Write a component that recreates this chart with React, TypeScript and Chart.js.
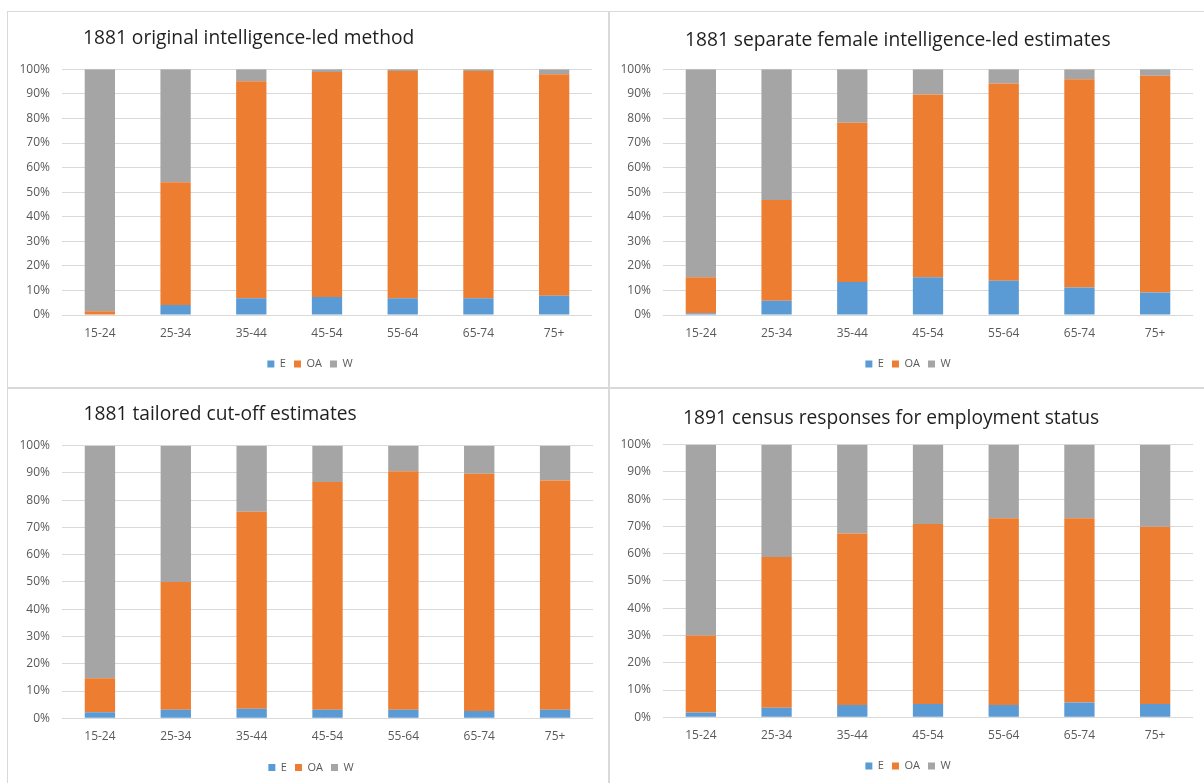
import React, { useEffect, useRef } from 'react';
import { Chart, registerables } from 'chart.js';

Chart.register(...registerables);

// ---------- data ----------
const categories = ['15-24', '25-34', '35-44', '45-54', '55-64', '65-74', '75+'];
const seriesNames = ['E', 'OA', 'W'];
const seriesColors = ['#5B9BD5', '#ED7D31', '#A5A5A5'];
const yTicks = [0, 10, 20, 30, 40, 50, 60, 70, 80, 90, 100];

const originalE = [0, 4.1, 6.8, 7.3, 6.8, 6.8, 7.8];
const originalOA = [1.5, 49.9, 88.3, 91.6, 92.5, 92.5, 90.2];
const originalW = [98.5, 46.0, 4.9, 1.1, 0.7, 0.7, 2.0];

const femaleE = [0.7, 5.8, 13.4, 15.4, 13.9, 11.2, 9.2];
const femaleOA = [14.7, 41.0, 64.8, 74.3, 80.3, 84.7, 88.2];
const femaleW = [84.6, 53.2, 21.8, 10.3, 5.8, 4.1, 2.6];

const tailoredE = [2.2, 3.1, 3.5, 3.1, 3.1, 2.7, 3.1];
const tailoredOA = [12.5, 46.9, 72.3, 83.6, 87.5, 87.0, 84.1];
const tailoredW = [85.3, 50.0, 24.2, 13.3, 9.4, 10.3, 12.8];

const censusE = [1.8, 3.5, 4.5, 4.9, 4.5, 5.4, 4.9];
const censusOA = [28.2, 55.3, 62.9, 66.0, 68.5, 67.6, 65.0];
const censusW = [70.0, 41.2, 32.6, 29.1, 27.0, 27.0, 30.1];

const titles = [
  '1881 original intelligence-led method',
  '1881 separate female intelligence-led estimates',
  '1881 tailored cut-off estimates',
  '1891 census responses for employment status',
];

// ---------- layout (page coordinates) ----------
type Geo = {
  panel: { x: number; y: number; w: number; h: number };
  canvas: { x: number; y: number; w: number; h: number };
  plot: { l: number; r: number; t: number; b: number };
  axisLeft: number;
  legendX: number;
  legendY: number;
  title: { x: number; baseline: number };
};

const geos: Geo[] = [
  {
    panel: { x: 7, y: 11, w: 602, h: 377 },
    canvas: { x: 0, y: 12, w: 608, h: 375 },
    plot: { l: 62, r: 592, t: 69.3, b: 315 },
    axisLeft: 14,
    legendX: 310,
    legendY: 364,
    title: { x: 83, baseline: 44 },
  },
  {
    panel: { x: 609, y: 11, w: 600, h: 377 },
    canvas: { x: 610, y: 12, w: 594, h: 375 },
    plot: { l: 663, r: 1193, t: 69.3, b: 315 },
    axisLeft: 612,
    legendX: 911,
    legendY: 364,
    title: { x: 685, baseline: 45.7 },
  },
  {
    panel: { x: 7, y: 388, w: 602, h: 400 },
    canvas: { x: 0, y: 389, w: 608, h: 394 },
    plot: { l: 62, r: 593, t: 445.7, b: 718.3 },
    axisLeft: 14,
    legendX: 312,
    legendY: 767.5,
    title: { x: 83.6, baseline: 419.7 },
  },
  {
    panel: { x: 609, y: 388, w: 600, h: 400 },
    canvas: { x: 610, y: 389, w: 594, h: 394 },
    plot: { l: 663, r: 1193, t: 444.7, b: 717.3 },
    axisLeft: 612,
    legendX: 912,
    legendY: 766,
    title: { x: 683, baseline: 424 },
  },
];

const panelData = [
  [originalE, originalOA, originalW],
  [femaleE, femaleOA, femaleW],
  [tailoredE, tailoredOA, tailoredW],
  [censusE, censusOA, censusW],
];

const FONT = "'Open Sans', 'Liberation Sans', sans-serif";
const TITLE_SIZE = 19.2;
const LEGEND_FONT = 11;
const LEGEND_PAD = 8;

function Panel({ index }: { index: number }) {
  const ref = useRef<HTMLCanvasElement | null>(null);
  const g = geos[index];
  const data = panelData[index];

  useEffect(() => {
    if (!ref.current) return;
    const c = g.canvas;
    const padL = g.axisLeft - c.x;
    const yAxisW = g.plot.l - g.axisLeft;
    const right = Math.min(c.x + c.w, 2 * g.legendX - g.axisLeft);
    const padR = c.x + c.w - right;
    const spacerW = Math.max(0, right - g.plot.r);
    const padTop = g.plot.t - c.y;
    const legendH = LEGEND_FONT + LEGEND_PAD + 10;
    const legendTop = g.legendY - LEGEND_PAD - LEGEND_FONT / 2;
    const xAxisH = legendTop - g.plot.b;
    const padBottom = Math.max(0, c.y + c.h - (legendTop + legendH));

    const chart = new Chart(ref.current, {
      type: 'bar',
      data: {
        labels: categories,
        datasets: seriesNames.map((name, i) => ({
          label: name,
          data: data[i],
          backgroundColor: seriesColors[i],
          borderWidth: 0,
          barPercentage: 0.4,
          categoryPercentage: 1.0,
        })),
      },
      options: {
        animation: false,
        responsive: false,
        maintainAspectRatio: false,
        layout: {
          padding: { left: padL, right: padR, top: padTop, bottom: padBottom },
        },
        plugins: {
          title: { display: false },
          tooltip: { enabled: false },
          legend: {
            display: true,
            position: 'bottom',
            labels: {
              boxWidth: 7,
              boxHeight: 7,
              padding: LEGEND_PAD,
              color: '#595959',
              font: { family: FONT, size: LEGEND_FONT },
            },
          },
        },
        scales: {
          x: {
            stacked: true,
            grid: { display: false, drawTicks: false },
            border: { display: false },
            ticks: {
              color: '#595959',
              font: { family: FONT, size: 12 },
              padding: 11,
              maxRotation: 0,
              autoSkip: false,
            },
            afterFit: (scale: any) => {
              scale.height = xAxisH;
            },
          },
          y: {
            stacked: true,
            min: 0,
            max: 100,
            afterBuildTicks: (scale: any) => {
              scale.ticks = yTicks.map((v) => ({ value: v }));
            },
            grid: { color: '#D9D9D9', lineWidth: 1, drawTicks: false },
            border: { display: false },
            ticks: {
              color: '#595959',
              font: { family: FONT, size: 12 },
              padding: 12,
              callback: (v: any) => v + '%',
            },
            afterFit: (scale: any) => {
              scale.width = yAxisW;
            },
          },
          spacer: {
            type: 'linear',
            position: 'right',
            display: true,
            grid: { display: false, drawTicks: false },
            border: { display: false },
            ticks: { display: false },
            afterFit: (scale: any) => {
              scale.width = spacerW;
            },
          },
        },
      },
    });
    return () => chart.destroy();
  }, [index]);

  const ascentShift = (1.069 - 0.181) * TITLE_SIZE;

  return (
    <>
      <div
        style={{
          position: 'absolute',
          left: g.panel.x,
          top: g.panel.y,
          width: g.panel.w,
          height: g.panel.h,
          boxSizing: 'border-box',
          border: '1px solid #D9D9D9',
          background: '#FFFFFF',
        }}
      />
      <canvas
        ref={ref}
        width={g.canvas.w}
        height={g.canvas.h}
        style={{
          position: 'absolute',
          left: g.canvas.x,
          top: g.canvas.y,
          width: g.canvas.w,
          height: g.canvas.h,
        }}
      />
      <div
        style={{
          position: 'absolute',
          left: g.title.x,
          top: g.title.baseline - ascentShift,
          fontFamily: FONT,
          fontSize: TITLE_SIZE,
          lineHeight: 1,
          color: '#1F1F1F',
          whiteSpace: 'nowrap',
        }}
      >
        {titles[index]}
      </div>
    </>
  );
}

export default function App() {
  return (
    <div
      style={{
        position: 'absolute',
        left: 0,
        top: 0,
        width: 1204,
        height: 783,
        overflow: 'hidden',
        background: '#FFFFFF',
      }}
    >
      {[0, 1, 2, 3].map((i) => (
        <Panel key={i} index={i} />
      ))}
    </div>
  );
}
